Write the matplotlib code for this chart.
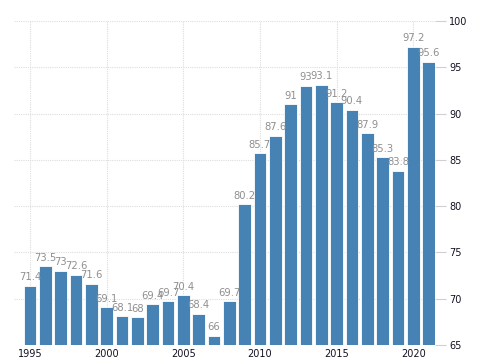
import numpy as np
import matplotlib.pyplot as plt

years = list(range(1995, 2022))
values = [71.4, 73.5, 73, 72.6, 71.6, 69.1, 68.1, 68, 69.4, 69.7,
          70.4, 68.4, 66, 69.7, 80.2, 85.7, 87.6, 91, 93, 93.1,
          91.2, 90.4, 87.9, 85.3, 83.8, 97.2, 95.6]
xticks = [1995, 2000, 2005, 2010, 2015, 2020]
yticks = [65, 70, 75, 80, 85, 90, 95, 100]

fig = plt.figure(figsize=(4.85, 3.6), dpi=100)
ax = fig.add_axes([14 / 485, 15 / 360, 421 / 485, 324 / 360])

ax.bar(years, values, width=0.82, color='#4682b4', edgecolor='white',
       linewidth=0.6, zorder=2)
for x, v in zip(years, values):
    ax.annotate(f"{v:g}", (x, v), xytext=(0, 2.5), textcoords='offset points',
                ha='center', va='bottom', fontsize=7.2, color='#8f8f8f',
                zorder=3)

ax.set_xlim(1993.95, 2021.42)
ax.set_ylim(65, 100)
ax.set_xticks(xticks)
ax.set_yticks(yticks)
ax.yaxis.tick_right()
ax.tick_params(axis='y', length=8, width=0.8, color='#d0d0d0',
               labelsize=7, labelcolor='#111122', pad=2)
ax.tick_params(axis='x', length=0, labelsize=7, labelcolor='#111122', pad=3)
ax.grid(True, color='#dddddd', linestyle=(0, (1, 1)), linewidth=0.8, zorder=0)
for s in ax.spines.values():
    s.set_visible(False)

fig.savefig('out.png', dpi=100)
